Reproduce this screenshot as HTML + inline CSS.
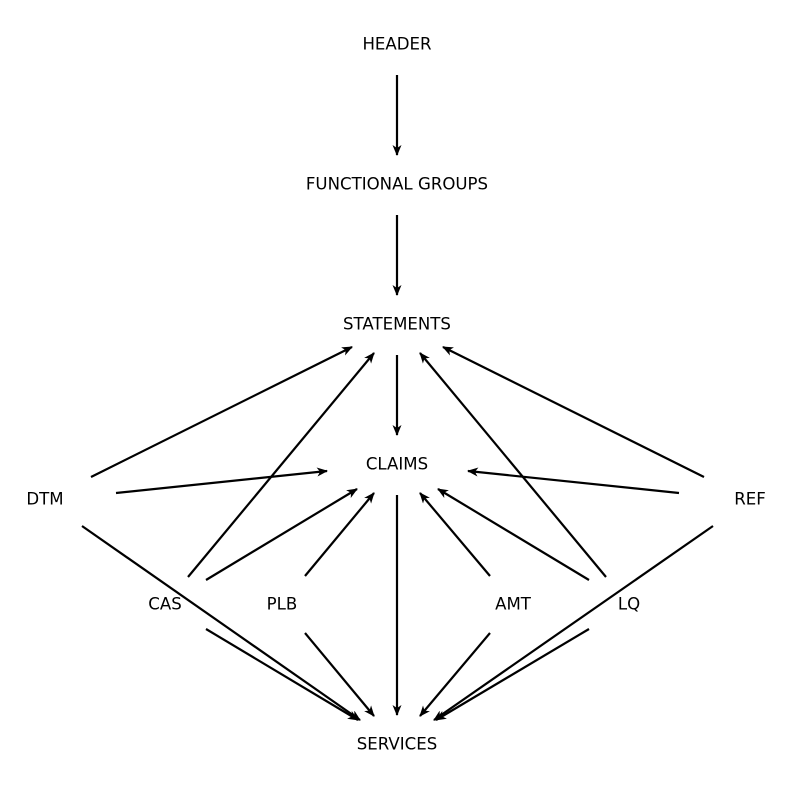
<!DOCTYPE html>
<html><head><meta charset="utf-8"><style>
html,body{margin:0;padding:0;background:#fff;}
svg{display:block;}
text{font-family:"DejaVu Sans","Liberation Sans",sans-serif;font-size:16.6px;fill:#000;text-anchor:middle;dominant-baseline:central;}
line{stroke:#000;stroke-width:2.2;marker-end:url(#a);}
</style></head><body>
<svg width="794" height="790" viewBox="0 0 794 790" xmlns="http://www.w3.org/2000/svg">
<defs><marker id="a" markerUnits="userSpaceOnUse" markerWidth="14" markerHeight="12" refX="10" refY="4.5" orient="auto"><path d="M0,0 L11,4.5 L0,9 L3,4.5 Z" fill="#000"/></marker></defs>
<line x1="397" y1="75" x2="397" y2="155"/>
<line x1="397" y1="215" x2="397" y2="295"/>
<line x1="397" y1="355" x2="397" y2="435"/>
<line x1="91" y1="477" x2="352" y2="347"/>
<line x1="188" y1="577" x2="374" y2="353"/>
<line x1="704" y1="477" x2="443" y2="347"/>
<line x1="606" y1="577" x2="420" y2="353"/>
<line x1="116" y1="493" x2="327" y2="471"/>
<line x1="679" y1="493" x2="468" y2="471"/>
<line x1="206" y1="580" x2="357" y2="489"/>
<line x1="305" y1="576" x2="374" y2="493"/>
<line x1="490" y1="576" x2="420" y2="493"/>
<line x1="589" y1="580" x2="438" y2="489"/>
<line x1="397" y1="495" x2="397" y2="715"/>
<line x1="82" y1="526" x2="360" y2="720"/>
<line x1="206" y1="629" x2="358" y2="720"/>
<line x1="305" y1="633" x2="374" y2="716"/>
<line x1="490" y1="633" x2="420" y2="716"/>
<line x1="589" y1="629" x2="436" y2="720"/>
<line x1="713" y1="526" x2="434" y2="720"/>
<text x="397" y="44">HEADER</text>
<text x="397" y="184">FUNCTIONAL GROUPS</text>
<text x="397" y="324">STATEMENTS</text>
<text x="397" y="464">CLAIMS</text>
<text x="45" y="499">DTM</text>
<text x="750" y="499">REF</text>
<text x="165" y="604">CAS</text>
<text x="282" y="604">PLB</text>
<text x="513" y="604">AMT</text>
<text x="629" y="604">LQ</text>
<text x="397" y="744">SERVICES</text>
</svg>
</body></html>
